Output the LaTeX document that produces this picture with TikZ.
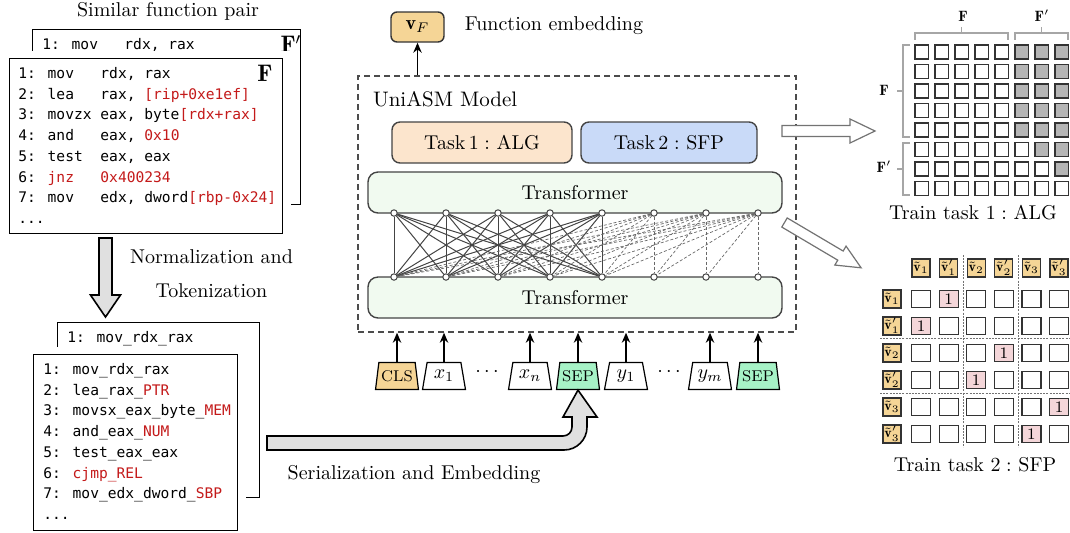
\documentclass[tikz,border=0pt]{standalone}
\usepackage{fontspec}
\newfontfamily\codefont{DejaVu Sans Mono}
\usetikzlibrary{shapes.geometric,arrows.meta}

\definecolor{tanfill}{HTML}{F5D596}
\definecolor{peachfill}{HTML}{FCE5CD}
\definecolor{bluefill}{HTML}{C9DAF8}
\definecolor{mintfill}{HTML}{F1FAF0}
\definecolor{sepfill}{HTML}{A6F2C6}
\definecolor{pinkfill}{HTML}{F4D6D9}
\definecolor{cellgray}{HTML}{B5B5B5}
\definecolor{arrowgray}{HTML}{E0E0E0}
\definecolor{codered}{HTML}{C41A1A}
\definecolor{linegray}{HTML}{444444}

\newcommand\rd[1]{\textcolor{codered}{#1}}

\tikzset{pics/blockarrow/.style n args={4}{code={%
  \draw[pic actions] (0,-#2) -- ({#1-#4},-#2) -- ({#1-#4},-#3) -- (#1,0)
    -- ({#1-#4},#3) -- ({#1-#4},#2) -- (0,#2) -- cycle;}}}

\begin{document}
\begin{tikzpicture}[>={Stealth[length=5pt,width=4.2pt,inset=1.6pt]},x=0.5pt,y=-0.5pt]
  \tikzset{
    codebox/.style={draw, anchor=north west, inner sep=0pt, line width=0.6pt},
    frontbox/.style={codebox, fill=white, preaction={draw=white, line width=8pt}},
    code/.style={anchor=north west, inner sep=0pt, align=left, font=\codefont\fontsize{7.3}{10.35}\selectfont},
    rbox/.style={draw=linegray, rounded corners=4pt, line width=0.7pt, minimum height=20.5pt},
    dot/.style={circle, draw=linegray, fill=white, inner sep=0pt, minimum size=3.2pt, line width=0.5pt},
    full/.style={draw=linegray, line width=0.5pt},
    part/.style={draw=linegray!80, line width=0.35pt, dash pattern=on 1.5pt off 1pt},
    tok/.style={trapezium, trapezium angle=78, trapezium stretches=true, draw, line width=0.6pt, minimum width=21.5pt, minimum height=13.5pt, inner sep=1pt},
    tokname/.style={tok, font=\fontsize{7.8}{8}\selectfont},
    hollow/.style={draw=black!55, fill=white, line width=0.6pt},
    algcell/.style={draw=black!80, line width=0.6pt, minimum width=6.75pt, minimum height=7pt, inner sep=0pt},
    brace/.style={draw=black!35, line width=0.6pt},
    vlab/.style={draw=black!80, fill=tanfill, line width=0.6pt, minimum size=9pt, inner sep=0pt, font=\fontsize{7}{8}\selectfont},
    sfpcell/.style={draw=black!80, line width=0.6pt, minimum width=9.5pt, minimum height=8.5pt, inner sep=0pt, font=\fontsize{8}{9}\selectfont},
    sepline/.style={draw=black!55, line width=0.5pt, dash pattern=on 1pt off 0.6pt}
  }
  \useasboundingbox (0,0) rectangle (1070,532);

  % assembly function pair
  \node (pairlabel) at (168,11) {Similar function pair};
  \node[codebox, minimum width=134pt, minimum height=87.5pt] (fpbox) at (32,29) {};
  \node[code] (fpcode) at (42,38) {1: mov~~~rdx, rax};
  \node[font=\large] (fplabel) at (291,44) {$\mathbf{F}'$};
  \node[frontbox, minimum width=136.5pt, minimum height=87.5pt] (fbox) at (9,58) {};
  \node[code] (fcode) at (18,67) {1: mov~~~rdx, rax\\
    2: lea~~~rax, \rd{[rip+0xe1ef]}\\
    3: movzx eax, byte\rd{[rdx+rax]}\\
    4: and~~~eax, \rd{0x10}\\
    5: test~~eax, eax\\
    6: \rd{jnz}~~~\rd{0x400234}\\
    7: mov~~~edx, dword\rd{[rbp-0x24]}\\
    ...};
  \node[font=\large] (flabel) at (265,73) {$\mathbf{F}$};

  \pic[draw=black, fill=arrowgray, line width=0.8pt, rotate=-90] at (105.5,238) {blockarrow={79}{6.5}{15}{22}};
  \node[align=center, font=\fontsize{10}{17}\selectfont] (normlabel) at (211.5,274) {Normalization and\\Tokenization};

  % normalized tokens
  \node[codebox, minimum width=101pt, minimum height=87.5pt] (tback) at (57,322) {};
  \node[code] (tbackcode) at (67,331) {1: mov\_rdx\_rax};
  \node[frontbox, minimum width=102pt, minimum height=88pt] (tfront) at (33,354) {};
  \node[code] (tcode) at (43,363) {1: mov\_rdx\_rax\\
    2: lea\_rax\_\rd{PTR}\\
    3: movsx\_eax\_byte\_\rd{MEM}\\
    4: and\_eax\_\rd{NUM}\\
    5: test\_eax\_eax\\
    6: \rd{cjmp\_REL}\\
    7: mov\_edx\_dword\_\rd{SBP}\\
    ...};

  % model
  \node[tokname, fill=tanfill] (cls) at (397,376) {CLS};
  \node[tok] (x1) at (444,376) {$x_1$};
  \node (d1) at (487,372) {$\cdots$};
  \node[tok] (xn) at (530,376) {$x_n$};
  \node[tokname, fill=sepfill] (sep1) at (578,376) {SEP};
  \node[tok] (y1) at (626,376) {$y_1$};
  \node (d2) at (669,372) {$\cdots$};
  \node[tok] (ym) at (710,376) {$y_m$};
  \node[tokname, fill=sepfill] (sep2) at (758,376) {SEP};

  \coordinate (serstart) at (267,443);
  \draw[draw=black, fill=arrowgray, line width=0.8pt] (serstart) ++(0,-7) -- (563,436)
    arc[start angle=90, end angle=0, radius=9] -- (572,417) -- (563,417) -- (sep1.south)
    -- (597,417) -- (587,417) -- (587,427) arc[start angle=0, end angle=90, radius=23]
    -- (267,450) -- cycle;
  \node (serlabel) at (414,474) {Serialization and Embedding};

  \node[draw=black!70, line width=0.7pt, dash pattern=on 3pt off 2pt, minimum width=219pt, minimum height=128pt] (model) at (577,204) {};
  \node[anchor=west, font=\fontsize{10.5}{12}\selectfont] (modellabel) at (366,99) {UniASM Model};
  \node[rbox, fill=peachfill, minimum width=90pt] (task1) at (482,142.5) {Task\,$1:$ ALG};
  \node[rbox, fill=bluefill, minimum width=88pt] (task2) at (669,142.5) {Task\,$2:$ SFP};
  \node[rbox, fill=mintfill, rounded corners=5pt, minimum width=207pt] (tr1) at (575,192.5) {Transformer};
  \node[rbox, fill=mintfill, rounded corners=5pt, minimum width=207pt] (tr2) at (575,297.5) {Transformer};
  \foreach \i in {0,...,7} {
    \node[dot] (t\i) at (394+52*\i,213) {};
    \node[dot] (b\i) at (394+52*\i,277) {};
  }
  \foreach \j in {0,...,4} \foreach \i in {0,...,4} \draw[full] (t\j) -- (b\i);
  \foreach \j in {5,6,7} \foreach \i in {0,...,\j} \draw[part] (t\j) -- (b\i);

  \foreach \t in {cls,x1,xn,sep1,y1,ym,sep2}
    \draw[->, line width=0.7pt] (\t.north) -- (\t.north |- model.south);

  \node[draw=black!80, fill=tanfill, rounded corners=3pt, line width=0.7pt, minimum width=26.5pt, minimum height=15pt] (vf) at (417.5,27) {$\mathbf{v}_F$};
  \draw[->, line width=0.7pt] (vf |- model.north) -- (vf);
  \node (femb) at (554,26) {Function embedding};

  \pic[hollow] at (782,131) {blockarrow={93}{5.5}{12}{25}};
  \pic[hollow, rotate=-30.6] at (784.5,222.5) {blockarrow={89}{5.3}{11}{24}};

  % train task 1
  \foreach \r in {0,...,7} \foreach \c in {0,...,7} {
    \def\cf{white}
    \ifnum\c>4 \ifnum\c>\r \def\cf{cellgray}\fi\fi
    \node[algcell, fill=\cf] (alg-\r-\c) at (921.7+20*\c,52+19.5*\r) {};
  }
  \draw[brace] (915,40) -- (915,33) -- (1008,33) -- (1008,40) (961.5,33) -- (961.5,27);
  \draw[brace] (1015,40) -- (1015,33) -- (1068,33) -- (1068,40) (1041.5,33) -- (1041.5,27);
  \draw[brace] (910,45) -- (903,45) -- (903,137) -- (910,137) (903,91) -- (897,91);
  \draw[brace] (910,143) -- (903,143) -- (903,195) -- (910,195) (903,169) -- (897,169);
  \node[font=\fontsize{7.5}{8}\selectfont] (algtop1) at (963,16) {$\mathbf{F}$};
  \node[font=\fontsize{7.5}{8}\selectfont] (algtop2) at (1042,16) {$\mathbf{F}'$};
  \node[font=\fontsize{7.5}{8}\selectfont] (algside1) at (884,90) {$\mathbf{F}$};
  \node[font=\fontsize{7.5}{8}\selectfont] (algside2) at (884,167) {$\mathbf{F}'$};
  \node (cap1) at (973,213) {Train task $1:$ ALG};

  % train task 2
  \foreach \c/\lab in {0/{\tilde{\mathbf{v}}_1},1/{\tilde{\mathbf{v}}'_1},2/{\tilde{\mathbf{v}}_2},
                        3/{\tilde{\mathbf{v}}'_2},4/{\tilde{\mathbf{v}}_3},5/{\tilde{\mathbf{v}}'_3}} {
    \node[vlab] (hdr-\c) at (921+27.6*\c,268) {$\lab$};
    \node[vlab] (rl-\c) at (892,299+27*\c) {$\lab$};
  }
  \foreach \r in {0,...,5} \foreach \c in {0,...,5} {
    \pgfmathtruncatemacro\pr{\r+1-2*mod(\r,2)}
    \ifnum\c=\pr
      \node[sfpcell, fill=pinkfill] (s-\r-\c) at (921+27.6*\c,299+27*\r) {1};
    \else
      \node[sfpcell] (s-\r-\c) at (921+27.6*\c,299+27*\r) {};
    \fi
  }
  \draw[sepline] (963,255) -- (963,447) (1018,255) -- (1018,447);
  \draw[sepline] (880,338) -- (1070,338) (880,393) -- (1070,393);
  \node (cap2) at (975,465) {Train task $2:$ SFP};
\end{tikzpicture}
\end{document}
